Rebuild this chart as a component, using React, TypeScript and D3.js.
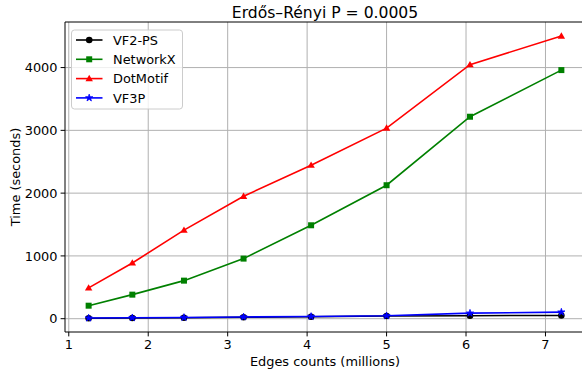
import React from "react";
import * as d3 from "d3";

const edgesMillions = [1.25, 1.8, 2.45, 3.2, 4.05, 5.0, 6.05, 7.2];
const vf2ps = [8, 12, 16, 24, 32, 42, 48, 52];
const networkx = [207, 383, 606, 957, 1488, 2126, 3217, 3960];
const dotmotif = [490, 888, 1410, 1950, 2445, 3035, 4046, 4502];
const vf3p = [10, 15, 20, 28, 36, 46, 88, 105];
const xTicks = [1, 2, 3, 4, 5, 6, 7];
const yTicks = [0, 1000, 2000, 3000, 4000];

const seriesNames = ["VF2-PS", "NetworkX", "DotMotif", "VF3P"];
const seriesColors = ["#000000", "#008000", "#ff0000", "#0000ff"];
const seriesMarkers = ["circle", "square", "triangle", "star"];
const seriesValues = [vf2ps, networkx, dotmotif, vf3p];

const W = 582, H = 374;
const left = 65, right = 585, top = 22, bottom = 332;
const FONT = "DejaVu Sans, sans-serif";
const FS = 12.9;

function Marker({ type, x, y, color }: { type: string; x: number; y: number; color: string }) {
  if (type === "circle") return <circle cx={x} cy={y} r={3.3} fill={color} />;
  if (type === "square") return <rect x={x - 3} y={y - 3} width={6} height={6} fill={color} />;
  if (type === "triangle") {
    const p = d3.symbol().type(d3.symbolTriangle).size(24)();
    return <path d={p || ""} transform={`translate(${x},${y + 0.5})`} fill={color} />;
  }
  const s = d3.symbol().type(d3.symbolStar).size(16)();
  return <path d={s || ""} transform={`translate(${x},${y})`} fill={color} stroke={color} strokeWidth={0.8} />;
}

export default function App() {
  const x = d3.scaleLinear().domain([0.9525, 7.4975]).range([left, right]);
  const y = d3.scaleLinear().domain([-212, 4726]).range([bottom, top]);
  const line = d3
    .line<number>()
    .x((_, i) => x(edgesMillions[i]))
    .y((d) => y(d));

  return (
    <svg width={W} height={H} style={{ position: "absolute", left: 0, top: 0, background: "#fff" }}>
      <defs>
        <clipPath id="plot">
          <rect x={left} y={top} width={right - left} height={bottom - top} />
        </clipPath>
      </defs>
      <rect x={0} y={0} width={W} height={H} fill="#fff" />
      {xTicks.map((t) => (
        <line key={"gx" + t} x1={x(t)} x2={x(t)} y1={top} y2={bottom} stroke="#b0b0b0" strokeWidth={1} />
      ))}
      {yTicks.map((t) => (
        <line key={"gy" + t} x1={left} x2={right} y1={y(t)} y2={y(t)} stroke="#b0b0b0" strokeWidth={1} />
      ))}
      <g clipPath="url(#plot)">
        {seriesValues.map((vals, si) => (
          <g key={seriesNames[si]}>
            <path d={line(vals) || ""} fill="none" stroke={seriesColors[si]} strokeWidth={1.6} />
            {vals.map((v, i) => (
              <Marker key={i} type={seriesMarkers[si]} x={x(edgesMillions[i])} y={y(v)} color={seriesColors[si]} />
            ))}
          </g>
        ))}
      </g>
      <line x1={left} x2={left} y1={top} y2={bottom} stroke="#000" strokeWidth={1} />
      <line x1={left} x2={right} y1={bottom} y2={bottom} stroke="#000" strokeWidth={1} />
      <line x1={left} x2={right} y1={top} y2={top} stroke="#000" strokeWidth={1} />
      <line x1={right} x2={right} y1={top} y2={bottom} stroke="#000" strokeWidth={1} />
      {xTicks.map((t) => (
        <g key={"xt" + t}>
          <line x1={x(t)} x2={x(t)} y1={bottom} y2={bottom + 4.4} stroke="#000" strokeWidth={1} />
          <text x={x(t)} y={bottom + 17} textAnchor="middle" fontFamily={FONT} fontSize={FS} fill="#000">
            {t}
          </text>
        </g>
      ))}
      {yTicks.map((t) => (
        <g key={"yt" + t}>
          <line x1={left - 4.4} x2={left} y1={y(t)} y2={y(t)} stroke="#000" strokeWidth={1} />
          <text x={left - 7.5} y={y(t) + 4.7} textAnchor="end" fontFamily={FONT} fontSize={FS} fill="#000">
            {t}
          </text>
        </g>
      ))}
      <text x={(left + right) / 2} y={365.5} textAnchor="middle" fontFamily={FONT} fontSize={FS} fill="#000">
        Edges counts (millions)
      </text>
      <text
        transform={`translate(20,${(top + bottom) / 2}) rotate(-90)`}
        textAnchor="middle"
        fontFamily={FONT}
        fontSize={FS}
        fill="#000"
      >
        Time (seconds)
      </text>
      <text x={(left + right) / 2} y={18} textAnchor="middle" fontFamily={FONT} fontSize={15.6} fill="#000">
        Erdős–Rényi P = 0.0005
      </text>
      <rect x={71.5} y={30} width={111} height={79} rx={3} fill="#fff" fillOpacity={0.8} stroke="#cccccc" strokeWidth={1} />
      {seriesNames.map((n, i) => {
        const ly = 40 + i * 19.3;
        return (
          <g key={"lg" + n}>
            <line x1={76} x2={102.5} y1={ly} y2={ly} stroke={seriesColors[i]} strokeWidth={1.6} />
            <Marker type={seriesMarkers[i]} x={89.2} y={ly} color={seriesColors[i]} />
            <text x={113} y={ly + 4.7} fontFamily={FONT} fontSize={FS} fill="#000">
              {n}
            </text>
          </g>
        );
      })}
    </svg>
  );
}
